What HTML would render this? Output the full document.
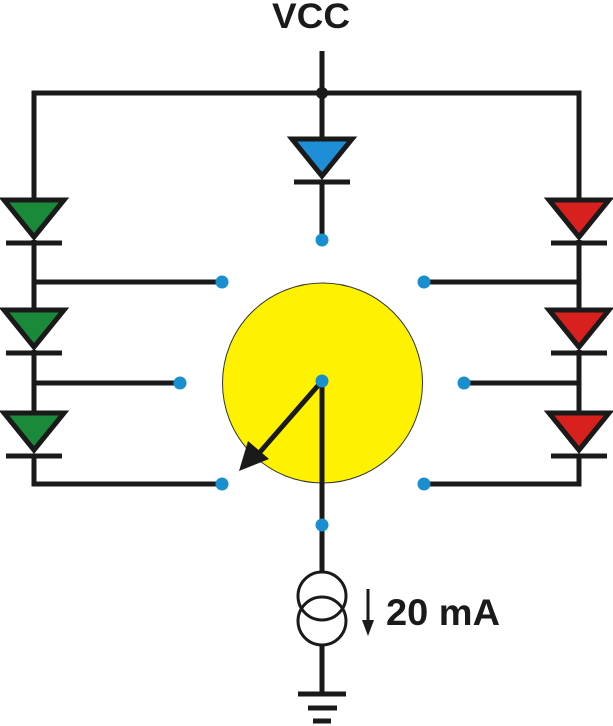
<!DOCTYPE html>
<html><head><meta charset="utf-8"><style>html,body{margin:0;padding:0;background:#fff}svg{display:block}</style></head>
<body>
<svg width="613" height="726" viewBox="0 0 613 726" xmlns="http://www.w3.org/2000/svg">
<defs>
<g id="dg"><polygon points="-30,0 30,0 0,37" stroke="#1a1a1a" stroke-width="5" stroke-linejoin="miter"/><line x1="-28" y1="43" x2="28" y2="43" stroke="#1a1a1a" stroke-width="5"/></g>
</defs>
<g stroke="#1a1a1a" stroke-width="5" fill="none">
<line x1="322" y1="51" x2="322" y2="137"/>
<polyline points="34,200 34,93 579,93 579,200"/>
<line x1="322" y1="180" x2="322" y2="240"/>
<line x1="34" y1="240" x2="34" y2="310"/>
<line x1="34" y1="350" x2="34" y2="413"/>
<polyline points="34,455 34,484 222,484"/>
<line x1="34" y1="282" x2="222" y2="282"/>
<line x1="34" y1="383" x2="180" y2="383"/>
<line x1="579" y1="240" x2="579" y2="310"/>
<line x1="579" y1="350" x2="579" y2="413"/>
<polyline points="579,455 579,484 424,484"/>
<line x1="579" y1="282" x2="424" y2="282"/>
<line x1="579" y1="383" x2="464" y2="383"/>
</g>
<circle cx="322" cy="93" r="6" fill="#1a1a1a"/>
<use href="#dg" x="322" y="139" fill="#1e8fd6"/>
<use href="#dg" x="34" y="200" fill="#1a8a3a"/>
<use href="#dg" x="34" y="310" fill="#1a8a3a"/>
<use href="#dg" x="34" y="413" fill="#1a8a3a"/>
<use href="#dg" x="579" y="200" fill="#d8201e"/>
<use href="#dg" x="579" y="310" fill="#d8201e"/>
<use href="#dg" x="579" y="413" fill="#d8201e"/>
<circle cx="322.5" cy="383" r="100" fill="#fff200" stroke="#333" stroke-width="1"/>
<line x1="322" y1="381" x2="322" y2="572" stroke="#1a1a1a" stroke-width="5"/>
<line x1="322" y1="381" x2="260" y2="452" stroke="#1a1a1a" stroke-width="5"/>
<polygon points="239,471 248,441 269,459" fill="#1a1a1a"/>
<g fill="#1a8fd0">
<circle cx="322" cy="240" r="6.5"/>
<circle cx="222" cy="282" r="6.5"/><circle cx="180" cy="383" r="6.5"/><circle cx="222" cy="484" r="6.5"/>
<circle cx="424" cy="282" r="6.5"/><circle cx="464" cy="383" r="6.5"/><circle cx="424" cy="484" r="6.5"/>
<circle cx="322" cy="381" r="6.5"/><circle cx="322" cy="525" r="6.5"/>
</g>
<g stroke="#1a1a1a" stroke-width="3" fill="none">
<circle cx="322" cy="596" r="24"/>
<circle cx="322" cy="621" r="24"/>
</g>
<line x1="322" y1="645" x2="322" y2="694" stroke="#1a1a1a" stroke-width="5"/>
<line x1="298" y1="694" x2="346" y2="694" stroke="#1a1a1a" stroke-width="5"/>
<line x1="308" y1="708" x2="337" y2="708" stroke="#1a1a1a" stroke-width="5"/>
<line x1="313" y1="721" x2="331" y2="721" stroke="#1a1a1a" stroke-width="5"/>
<line x1="368" y1="589" x2="368" y2="625" stroke="#1a1a1a" stroke-width="3"/>
<polygon points="362,620 374,620 368,636" fill="#1a1a1a"/>
<text x="386" y="625" font-family="Liberation Sans, sans-serif" font-weight="bold" font-size="37" textLength="114" lengthAdjust="spacingAndGlyphs" fill="#1a1a1a">20 mA</text>
<text x="311" y="28" text-anchor="middle" font-family="Liberation Sans, sans-serif" font-weight="bold" font-size="35" textLength="78" lengthAdjust="spacingAndGlyphs" fill="#1a1a1a">VCC</text>
</svg>
</body></html>
